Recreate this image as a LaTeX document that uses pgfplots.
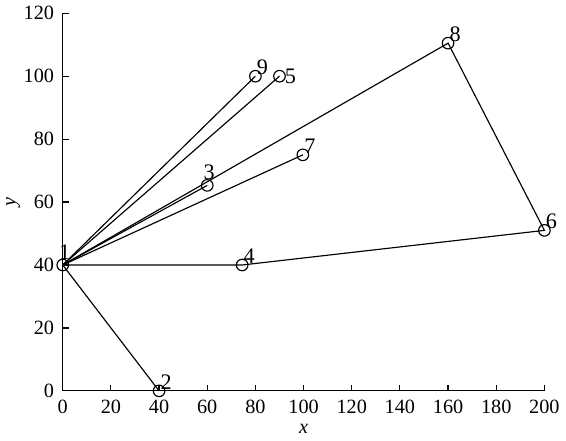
\documentclass[border=0pt]{standalone}
\usepackage{fontspec}
\setmainfont{Liberation Serif}
\usepackage{pgfplots}
\pgfplotsset{compat=1.18}
\begin{document}
\begin{tikzpicture}
\begin{axis}[
  scale only axis,
  width=250pt, height=196pt,
  xmin=0, xmax=200, ymin=0, ymax=120,
  axis x line=bottom, axis y line=left,
  axis line style={-, line width=0.6pt},
  xtick={0,20,...,200}, ytick={0,20,...,120},
  tick align=inside, major tick length=3pt,
  tick style={line width=0.6pt, black},
  /pgf/number format/assume math mode=true,
  tick label style={font=\fontsize{10.5}{12}\selectfont},
  yticklabel style={xshift=-1pt},
  xticklabel style={yshift=-1pt},
  xlabel={\textit{x}}, ylabel={\textit{y}},
  label style={font=\fontsize{10.5}{12}\selectfont},
  xlabel style={yshift=1pt},
  ylabel style={yshift=-5pt},
  clip=false,
]
% edges
\addplot[black, line width=0.6pt, no marks] coordinates {(0,40) (40,0)};
\addplot[black, line width=0.6pt, no marks] coordinates {(0,40) (74.5,40) (200,51) (160,110.5) (0,40)};
\addplot[black, line width=0.6pt, no marks] coordinates {(0,40) (60,65.3)};
\addplot[black, line width=0.6pt, no marks] coordinates {(0,40) (99.7,75)};
\addplot[black, line width=0.6pt, no marks] coordinates {(0,40) (90,100)};
\addplot[black, line width=0.6pt, no marks] coordinates {(0,40) (80,100)};
% nodes
\addplot[only marks, mark=o, mark size=3pt, mark options={line width=0.6pt, fill=white}, black,
  nodes near coords, point meta=explicit symbolic,
  every node near coord/.append style={font=\fontsize{11.5}{13}\selectfont, anchor=south west, inner sep=0.5pt}]
  coordinates {
  (40,0) [2]
  (74.5,40) [4]
  (99.7,75) [7]
  (80,100) [9]
  (160,110.5) [8]
  (200,51) [6]
};
\addplot[only marks, mark=o, mark size=3pt, mark options={line width=0.6pt, fill=white}, black,
  nodes near coords, point meta=explicit symbolic,
  every node near coord/.append style={font=\fontsize{11.5}{13}\selectfont, anchor=south, inner sep=0.5pt, yshift=2pt, xshift=1pt}]
  coordinates {
  (0,40) [1]
  (60,65.3) [3]
};
\addplot[only marks, mark=o, mark size=3pt, mark options={line width=0.6pt, fill=white}, black,
  nodes near coords, point meta=explicit symbolic,
  every node near coord/.append style={font=\fontsize{11.5}{13}\selectfont, anchor=west, inner sep=0.5pt, xshift=2pt}]
  coordinates {
  (90,100) [5]
};
\end{axis}
\end{tikzpicture}
\end{document}
